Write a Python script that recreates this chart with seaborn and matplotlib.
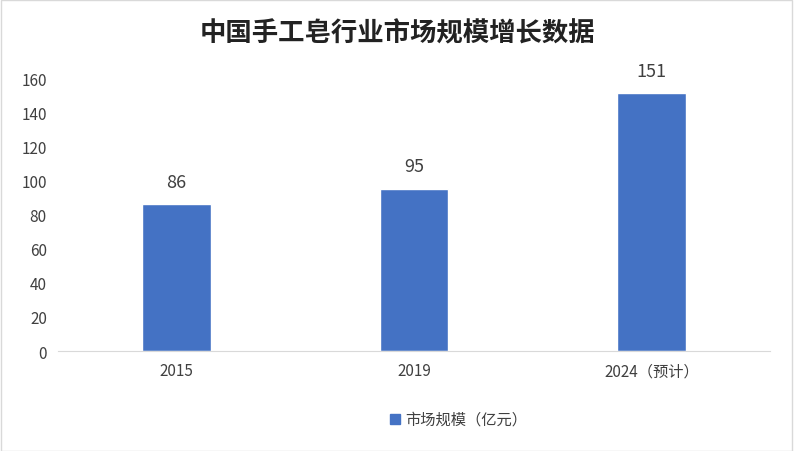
import matplotlib
matplotlib.use("Agg")
import matplotlib.pyplot as plt
import seaborn as sns
import pandas as pd

categories = ["2015", "2019", "2024（预计）"]
values = [86, 95, 151]
series_name = "市场规模（亿元）"
title = "中国手工皂行业市场规模增长数据"

sns.set_style("white")
plt.rcParams['font.family'] = ['Noto Sans CJK SC', 'DejaVu Sans']

df = pd.DataFrame({"cat": categories, "val": values})
fig = plt.figure(figsize=(7.94, 4.52), dpi=100)
ax = fig.add_axes([0.073, 0.221, 0.897, 0.604])
sns.barplot(data=df, x="cat", y="val", color="#4472C4", width=0.29, ax=ax, saturation=1)
ax.set_ylim(0, 160)
ax.set_yticks(range(0, 161, 20))
ax.set_xlim(-0.5, 2.5)
ax.set_xlabel("")
ax.set_ylabel("")
for s in ["top", "right", "left"]:
    ax.spines[s].set_visible(False)
ax.spines["bottom"].set_color("#D9D9D9")
ax.tick_params(axis="both", length=0, labelsize=11, colors="#404040", pad=8)
for i, v in enumerate(values):
    ax.text(i, v + 8, str(v), ha="center", va="bottom", fontsize=13, color="#404040")
fig.text(0.5, 0.925, title, ha="center", va="center", fontsize=19, fontweight="bold", color="#222222")
fig.patches.append(plt.Rectangle((390/794, 1-425/452), 10/794, 10/452, transform=fig.transFigure, color="#4472C4"))
fig.text(405/794, 1-420/452, series_name, ha="left", va="center", fontsize=11, color="#404040")
fig.patches.append(plt.Rectangle((0.001, 0.001), 0.997, 0.997, transform=fig.transFigure, fill=False, edgecolor="#D9D9D9", lw=1))
fig.savefig("out.png", dpi=100)
